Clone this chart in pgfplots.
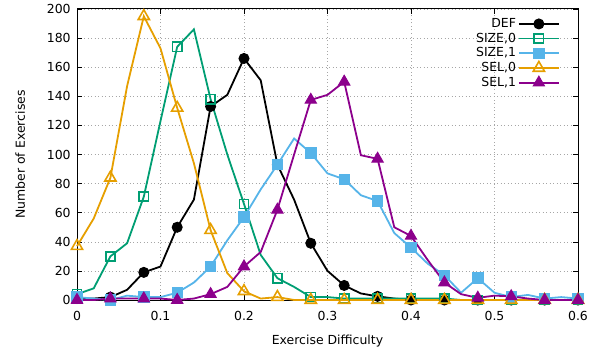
\documentclass[border=0pt]{standalone}
\usepackage{fontspec}
\setmainfont{DejaVu Sans}
\usepackage{pgfplots}
\pgfplotsset{compat=1.18}
\definecolor{cdef}{RGB}{0,0,0}
\definecolor{csizez}{RGB}{0,158,115}
\definecolor{csizeo}{RGB}{86,180,233}
\definecolor{cselz}{RGB}{230,159,0}
\definecolor{cselo}{RGB}{140,0,140}
\begin{document}
\fontsize{12.5}{15}\selectfont
\begin{tikzpicture}
\begin{axis}[
  name=ax,
  scale only axis,
  width=501bp, height=291bp,
  xmin=0, xmax=0.6, ymin=0, ymax=200,
  xtick={0,0.1,0.2,0.3,0.4,0.5,0.6},
  ytick={0,20,40,60,80,100,120,140,160,180,200},
  xticklabels={0,0.1,0.2,0.3,0.4,0.5,0.6},
  /pgf/number format/assume math mode=true,
  tick label style={font=\fontsize{12.5}{15}\selectfont},
  label style={font=\fontsize{12.5}{15}\selectfont},
  xlabel={Exercise Difficulty},
  ylabel={Number of Exercises},
  xlabel style={at={(axis description cs:0.5,0)}, anchor=base, yshift=-44bp},
  ylabel style={at={(axis description cs:-0.104,0.5)}, anchor=base, rotate=0},
  major tick length=5bp,
  tick style={black, line width=0.6bp},
  axis line style={line width=1bp},
  grid=major,
  major grid style={gray!70, line width=0.5bp, dash pattern=on 1bp off 2.5bp},
  xticklabel style={yshift=-7bp},
  yticklabel style={xshift=-2bp},
  clip=false,
  every axis plot/.append style={line width=1.8bp, mark repeat=2},
  legend style={draw=none, fill=none, at={(0.964,0.975)}, anchor=north east,
    font=\fontsize{12.5}{15}\selectfont, row sep=-0.4bp, inner sep=0pt,
    nodes={inner sep=2bp}},
  legend cell align=right,
  legend plot pos=right,
  legend image code/.code={\draw[line width=1.8bp, mark repeat=2,mark phase=2] plot coordinates {(0bp,0bp)(20bp,0bp)(40bp,0bp)};},
]
\addplot[cdef, mark=*, mark size=5bp, mark options={solid, line width=1bp}] coordinates {
(0,1)(0.02,1)(0.04,2)(0.06,7)(0.08,19)(0.10,23)(0.12,50)(0.14,69)(0.16,133)(0.18,141)
(0.20,166)(0.22,151)(0.24,93)(0.26,69)(0.28,39)(0.30,20)(0.32,10)(0.34,4.5)(0.36,2.5)(0.38,1)
(0.40,0)(0.42,0)(0.44,0)(0.46,0)(0.48,0)(0.50,0)(0.52,0)(0.54,0)(0.56,0)(0.58,0)(0.60,0)};
\addlegendentry{DEF}
\addplot[csizez, mark=square, mark size=4.6bp, mark options={solid, line width=1.6bp}] coordinates {
(0,4)(0.02,8)(0.04,30)(0.06,39)(0.08,71)(0.10,123)(0.12,174)(0.14,186)(0.16,138)(0.18,100)
(0.20,66)(0.22,31)(0.24,15)(0.26,9)(0.28,2)(0.30,2)(0.32,1)(0.34,1)(0.36,1)(0.38,1)
(0.40,1)(0.42,1)(0.44,1)(0.46,0)(0.48,0)(0.50,0)(0.52,0)(0.54,0)(0.56,0)(0.58,0)(0.60,0)};
\addlegendentry{SIZE,0}
\addplot[csizeo, mark=square*, mark size=5.2bp, mark options={solid, line width=1bp}] coordinates {
(0,2)(0.02,1)(0.04,0)(0.06,3)(0.08,2)(0.10,2)(0.12,5)(0.14,12)(0.16,23)(0.18,41)
(0.20,57)(0.22,76)(0.24,93)(0.26,111)(0.28,101)(0.30,87)(0.32,83)(0.34,72)(0.36,68)(0.38,46)
(0.40,36)(0.42,25)(0.44,17)(0.46,5)(0.48,15)(0.50,5)(0.52,2)(0.54,3.5)(0.56,1)(0.58,2)(0.60,1)};
\addlegendentry{SIZE,1}
\addplot[cselz, mark=triangle, mark size=6.5bp, mark options={solid, line width=1.6bp}] coordinates {
(0,37)(0.02,56)(0.04,84)(0.06,147)(0.08,195)(0.10,173)(0.12,132)(0.14,94)(0.16,48)(0.18,18.5)
(0.20,6)(0.22,1)(0.24,2)(0.26,0)(0.28,0)(0.30,0)(0.32,0)(0.34,0)(0.36,0)(0.38,0)
(0.40,0)(0.42,0)(0.44,0)(0.46,0)(0.48,0)(0.50,0)(0.52,0)(0.54,0)(0.56,0)(0.58,0)(0.60,0)};
\addlegendentry{SEL,0}
\addplot[cselo, mark=triangle*, mark size=6.5bp, mark options={solid, line width=1bp}] coordinates {
(0,0)(0.02,0)(0.04,1)(0.06,1)(0.08,1)(0.10,1)(0.12,0)(0.14,1)(0.16,4)(0.18,9)
(0.20,23)(0.22,33)(0.24,62)(0.26,100)(0.28,137.5)(0.30,141)(0.32,150)(0.34,99.5)(0.36,97)(0.38,50)
(0.40,44)(0.42,27.5)(0.44,12)(0.46,4)(0.48,1.5)(0.50,3)(0.52,2.5)(0.54,1)(0.56,0)(0.58,0)(0.60,0)};
\addlegendentry{SEL,1}
\end{axis}
\pgfresetboundingbox
\path[use as bounding box] ([shift={(-77bp,-54bp)}]ax.south west) rectangle ([shift={(23bp,9bp)}]ax.north east);
\end{tikzpicture}
\end{document}
